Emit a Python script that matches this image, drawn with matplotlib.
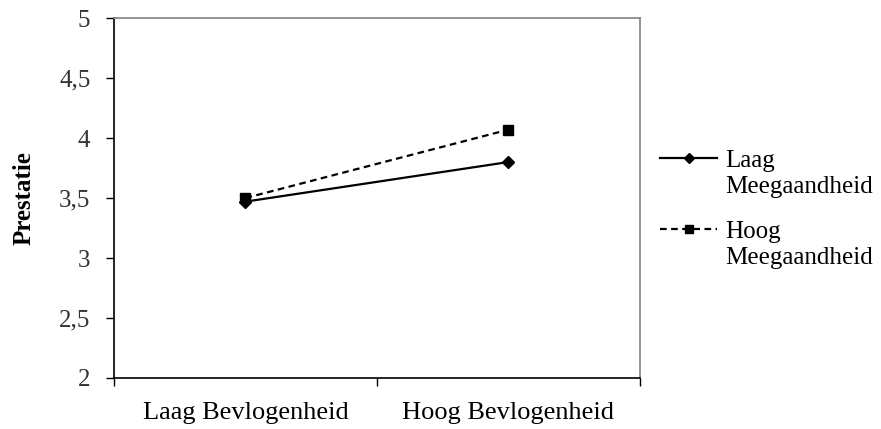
import matplotlib
matplotlib.use("Agg")
import matplotlib.pyplot as plt
from matplotlib.text import Annotation

# Gemiddelde prestatie per conditie
categories = ["Laag Bevlogenheid", "Hoog Bevlogenheid"]
laag_meeg = [3.47, 3.80]
hoog_meeg = [3.50, 4.07]
series_first = ["Laag", "Hoog"]
series_second = "Meegaandheid"
y_ticks = [2, 2.5, 3, 3.5, 4, 4.5, 5]
y_ticklabels = ["2", "2,5", "3", "3,5", "4", "4,5", "5"]

plt.rcParams["font.family"] = ["Liberation Serif", "DejaVu Serif"]

fig = plt.figure(figsize=(8.81, 4.29), dpi=100)
ax = fig.add_axes([0.1294, 0.1189, 0.597, 0.839])

x = [0.5, 1.5]
ax.plot(x, laag_meeg, color="black", lw=1.6, marker="D", markersize=6,
        label=series_first[0])
ax.plot(x, hoog_meeg, color="black", lw=1.6, ls=(0, (3, 2)), marker="s",
        markersize=7, label=series_first[1])

ax.set_xlim(0, 2)
ax.set_ylim(2, 5)
ax.set_yticks(y_ticks)
ax.set_yticklabels(y_ticklabels, fontsize=18, color="#333333")
ax.set_xticks([0, 1, 2])
ax.set_xticklabels([])
ax.set_xticks(x, minor=True)
ax.set_xticklabels(categories, minor=True, fontsize=19)
ax.tick_params(axis="x", which="minor", length=0, pad=17)
ax.tick_params(axis="x", which="major", length=6, direction="out", width=1)
ax.tick_params(axis="y", length=6, direction="out", width=1, pad=11)

ax.set_ylabel("Prestatie", fontsize=18, fontweight="bold", labelpad=17)

for side in ["left", "bottom"]:
    ax.spines[side].set_color("black")
    ax.spines[side].set_linewidth(1.2)
for side in ["top", "right"]:
    ax.spines[side].set_color("#808080")
    ax.spines[side].set_linewidth(1.2)

leg = fig.legend(loc="upper left", bbox_to_anchor=(0.749, 0.652), frameon=False,
                 fontsize=18, handlelength=2.3, handletextpad=0.33,
                 labelspacing=1.95, borderpad=0, borderaxespad=0,
                 markerscale=0.8)

# tweede regel onder elk legendalabel
for t in leg.get_texts():
    ann = Annotation(series_second, xy=(0, 0), xycoords=t, xytext=(0, -3),
                     textcoords="offset points", va="top", ha="left",
                     fontsize=18)
    ann.set_zorder(10)
    fig.add_artist(ann)

fig.savefig("out.png", dpi=100)
